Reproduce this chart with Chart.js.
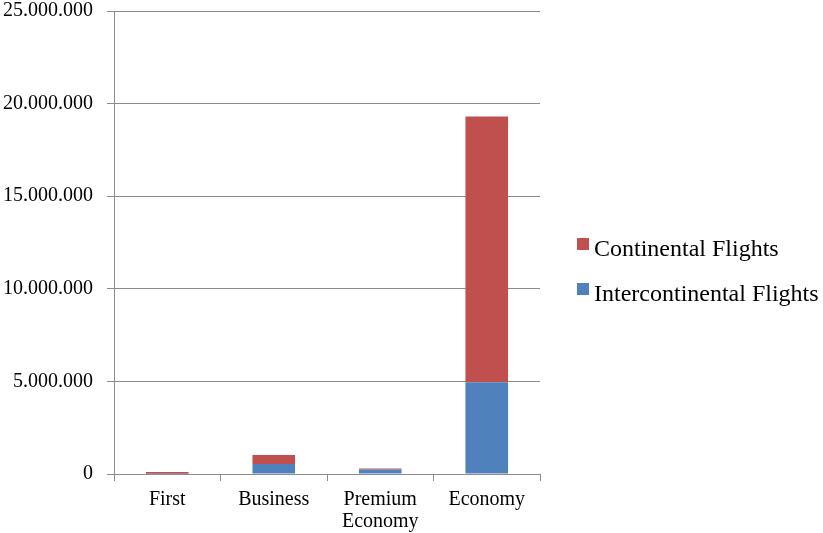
<!DOCTYPE html>
<html>
<head>
<meta charset="utf-8">
<script src="https://cdn.jsdelivr.net/npm/chart.js@4.4.0/dist/chart.umd.min.js"></script>
<style>
  html, body { margin: 0; padding: 0; background: #fff; }
  #wrap { width: 823px; height: 533px; }
</style>
</head>
<body>
<div id="wrap"><canvas id="chartKelas" width="823" height="533"></canvas></div>
<script>
const classes = ["First", "Business", ["Premium", "Economy"], "Economy"];
const intercontinental = [20000, 540000, 240000, 4950000];
const continental = [90000, 490000, 60000, 14350000];
const yTicks = [0, 5000000, 10000000, 15000000, 20000000, 25000000];

const serif = "'Liberation Serif', 'Times New Roman', serif";

// thousands with dots, e.g. 25.000.000
function fmt(v) {
  return String(v).replace(/\B(?=(\d{3})+(?!\d))/g, ".");
}

// legend on the right, top series first; the built-in one is capped too narrow
const sideLegend = {
  id: "sideLegend",
  afterDraw(chart, args, opts) {
    const ctx = chart.ctx;
    const sets = chart.data.datasets.slice().reverse();
    ctx.save();
    ctx.font = "24px " + serif;
    ctx.textBaseline = "alphabetic";
    ctx.textAlign = "left";
    sets.forEach((ds, i) => {
      const base = opts.y + i * opts.step;
      ctx.fillStyle = ds.backgroundColor;
      ctx.fillRect(opts.x, base - 18, opts.box, opts.box);
      ctx.fillStyle = "#000";
      ctx.fillText(ds.label, opts.x + 17, base);
    });
    ctx.restore();
  }
};

new Chart(document.getElementById("chartKelas"), {
  type: "bar",
  data: {
    labels: classes,
    datasets: [
      {
        label: "Intercontinental Flights",
        data: intercontinental,
        backgroundColor: "#4F81BD"
      },
      {
        label: "Continental Flights",
        data: continental,
        backgroundColor: "#C0504D"
      }
    ]
  },
  plugins: [sideLegend],
  options: {
    responsive: false,
    animation: false,
    layout: { padding: { top: 0, right: 283, bottom: 0, left: 0 } },
    datasets: { bar: { categoryPercentage: 1, barPercentage: 0.4 } },
    plugins: {
      tooltip: { enabled: false },
      legend: { display: false },
      sideLegend: { x: 577, y: 256, step: 45, box: 12 }
    },
    scales: {
      x: {
        stacked: true,
        afterFit: s => { s.height = 59; },
        border: { color: "#8c8c8c", width: 1 },
        grid: { offset: true, drawOnChartArea: false, drawTicks: true, tickLength: 7, color: "#8c8c8c" },
        ticks: { color: "#000", padding: 8, maxRotation: 0, font: { family: serif, size: 20, lineHeight: 1.1 } }
      },
      y: {
        stacked: true,
        min: 0,
        max: 25000000,
        afterFit: s => {
          s.width = 114;
          s.paddingTop = 11;
          s.paddingBottom = 0;
        },
        afterBuildTicks: s => { s.ticks = yTicks.map(v => ({ value: v })); },
        border: { color: "#8c8c8c", width: 1 },
        grid: { color: "#8c8c8c", tickLength: 7 },
        ticks: {
          color: "#000",
          padding: 14,
          font: { family: serif, size: 20, lineHeight: 1.1 },
          callback: v => fmt(v)
        }
      }
    }
  }
});
</script>
</body>
</html>
